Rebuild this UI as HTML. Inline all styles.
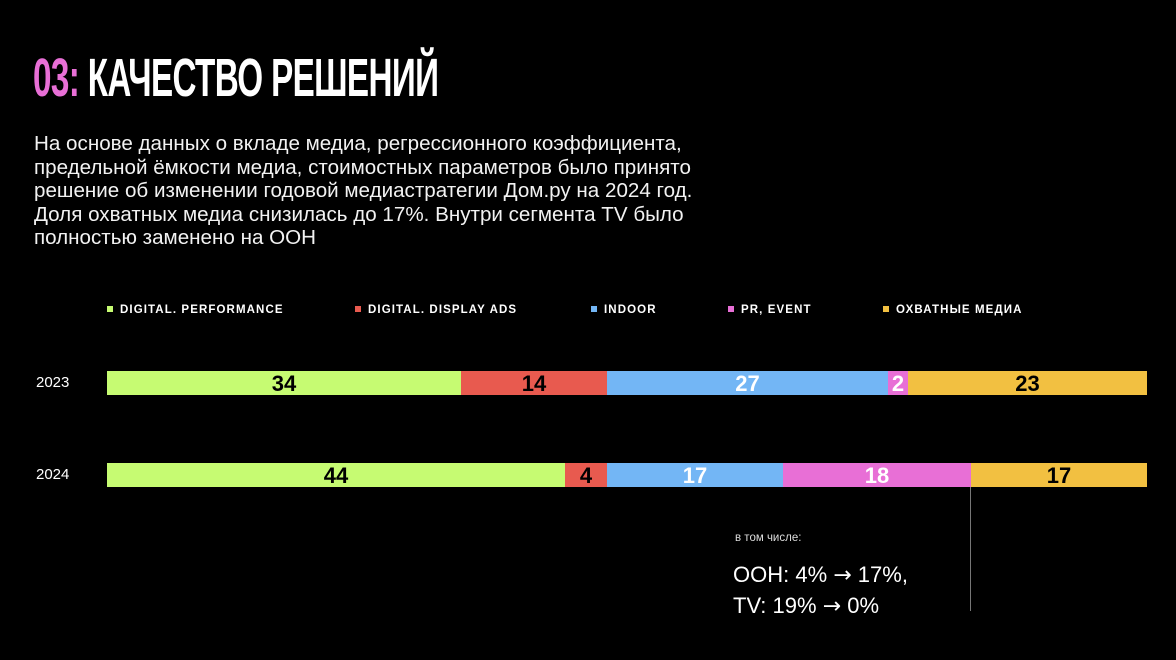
<!DOCTYPE html>
<html><head><meta charset="utf-8"><style>
body{margin:0;width:1176px;height:660px;background:#000;position:relative;overflow:hidden;font-family:"Liberation Sans",sans-serif;color:#fff}
.t{position:absolute;left:33px;top:50px;font-family:"Liberation Sans Narrow","Liberation Sans",sans-serif;font-weight:bold;font-size:54px;line-height:56px;transform:scaleX(0.615);transform-origin:left;letter-spacing:-1px;white-space:nowrap}
.p{position:absolute;left:34px;top:133px;font-size:20px;line-height:23.5px;width:800px;color:#f2f2f2;white-space:nowrap;transform:scaleX(1.03);transform-origin:left}
.lg{position:absolute;top:304px;font-size:11.5px;font-weight:bold;letter-spacing:1.1px;white-space:nowrap}
.lg i{display:inline-block;width:6px;height:6px;margin-right:7px;vertical-align:1px}
.yr{position:absolute;left:36px;font-size:15px}
.b{position:absolute;height:24px;font-weight:bold;font-size:22px;line-height:26px;text-align:center}
</style></head><body>
<div class="t"><span style="color:#e86fd6">03:</span>&nbsp;КАЧЕСТВО РЕШЕНИЙ</div>
<div class="p">На основе данных о вкладе медиа, регрессионного коэффициента,<br>предельной ёмкости медиа, стоимостных параметров было принято<br>решение об изменении годовой медиастратегии Дом.ру на 2024 год.<br>Доля охватных медиа снизилась до 17%. Внутри сегмента TV было<br>полностью заменено на ООН</div>
<div class="lg" style="left:107px"><i style="background:#c6fb72"></i>DIGITAL. PERFORMANCE</div>
<div class="lg" style="left:355px"><i style="background:#e85a4f"></i>DIGITAL. DISPLAY ADS</div>
<div class="lg" style="left:591px"><i style="background:#73b6f5"></i>INDOOR</div>
<div class="lg" style="left:728px"><i style="background:#e86fd6"></i>PR, EVENT</div>
<div class="lg" style="left:883px"><i style="background:#f2c041"></i>ОХВАТНЫЕ МЕДИА</div>
<div class="yr" style="top:374px">2023</div>
<div class="yr" style="top:466px">2024</div>
<div class="b" style="top:371px;left:107px;width:354px;background:#c6fb72;color:#000">34</div>
<div class="b" style="top:371px;left:461px;width:146px;background:#e85a4f;color:#000">14</div>
<div class="b" style="top:371px;left:607px;width:281px;background:#73b6f5;color:#fff">27</div>
<div class="b" style="top:371px;left:888px;width:20px;background:#e86fd6;color:#fff">2</div>
<div class="b" style="top:371px;left:908px;width:239px;background:#f2c041;color:#000">23</div>
<div class="b" style="top:463px;left:107px;width:458px;background:#c6fb72;color:#000">44</div>
<div class="b" style="top:463px;left:565px;width:42px;background:#e85a4f;color:#000">4</div>
<div class="b" style="top:463px;left:607px;width:176px;background:#73b6f5;color:#fff">17</div>
<div class="b" style="top:463px;left:783px;width:188px;background:#e86fd6;color:#fff">18</div>
<div class="b" style="top:463px;left:971px;width:176px;background:#f2c041;color:#000">17</div>
<div style="position:absolute;left:970px;top:487px;width:1px;height:124px;background:#777"></div>
<div style="position:absolute;left:735px;top:532px;font-size:11.5px;color:#ddd">в том числе:</div>
<div style="position:absolute;left:733px;top:560px;font-size:22px;line-height:30px">ООН: 4% <span style="font-family:'DejaVu Sans'">→</span> 17%,<br>TV: 19% <span style="font-family:'DejaVu Sans'">→</span> 0%</div>
</body></html>
